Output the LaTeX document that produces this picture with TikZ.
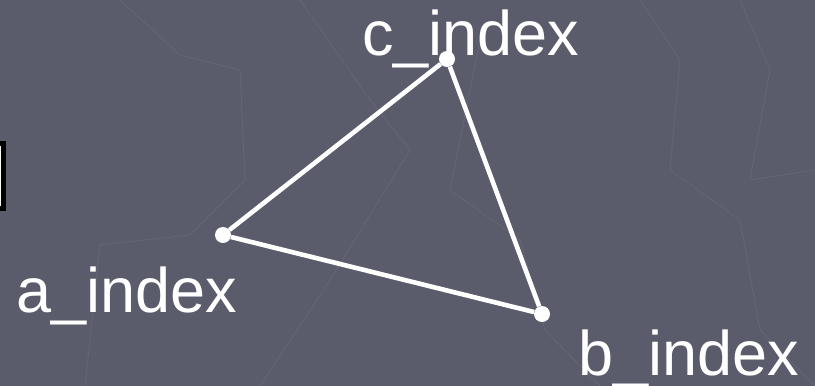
\documentclass[tikz,border=0pt]{standalone}
\usepackage{fontspec}
\setmainfont{Liberation Sans}
\definecolor{slate}{RGB}{90,91,107}
\definecolor{faint}{RGB}{100,101,117}

\begin{document}
\begin{tikzpicture}[x=1pt,y=1pt,yscale=-1,xscale=1,
  vertex/.style={circle,fill=white,inner sep=0pt,minimum size=16pt},
  edge/.style={draw=white,line width=4.6pt},
  lbl/.style={anchor=base west,inner sep=0pt,text=white,font=\fontsize{63}{63}\selectfont}]
%set diagram to 815 x 386
\useasboundingbox (0,0) rectangle (815,386);
\fill [slate] (0,0) rectangle (815,386);

%Background strokes
\draw [faint,line width=0.8pt] (120,0) -- (180,55) -- (240,70) -- (245,180) -- (190,235) -- (100,245) -- (85,386);
\draw [faint,line width=0.8pt] (300,0) -- (370,100) -- (410,150) -- (330,280) -- (260,386);
\draw [faint,line width=0.8pt] (480,40) -- (450,190) -- (520,240) -- (545,330) -- (600,386);
\draw [faint,line width=0.8pt] (640,0) -- (680,60) -- (670,170) -- (740,220) -- (760,330) -- (815,386);
\draw [faint,line width=0.8pt] (740,0) -- (770,70) -- (750,180) -- (815,170);

%Cut box at left edge
\draw [black,line width=5pt,fill=white] (-20,143.5) rectangle (3.5,208.5);

%Corners
\node [vertex] (a) at (223,235) {};
\node [vertex] (b) at (542,314) {};
\node [vertex] (c) at (447,59) {};

%Triangle sides
\draw [edge] (a) -- (b) -- (c) -- (a);

% Text Node
\node [lbl] (alabel) at (16,312) {a\_index};
% Text Node
\node [lbl] (blabel) at (578,375) {b\_index};
% Text Node
\node [lbl] (clabel) at (362,55) {c\_index};

\end{tikzpicture}
\end{document}
